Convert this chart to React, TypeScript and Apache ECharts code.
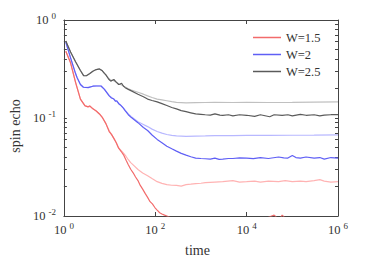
import { useEffect, useRef } from 'react';
import * as echarts from 'echarts';

// Tick exponents (axis is log10 of the value)
const xTickExponents = [0, 2, 4, 6];
const yTickExponents = [-2, -1, 0];
const yMinorMultipliers = [2, 3, 4, 5, 6, 7, 8, 9];

const legendNames = ['W=1.5', 'W=2', 'W=2.5'];

// [time, spin echo]
const w15Dark: [number, number][] = [
  [1.1, 0.48], [1.4, 0.366], [1.8, 0.231], [2.3, 0.156], [2.9, 0.133], [3.4, 0.130], [3.7, 0.133],
  [4.3, 0.124], [5.1, 0.118], [6.0, 0.110], [7.0, 0.1006], [8.3, 0.0876], [9.8, 0.0728], [11, 0.068],
  [12.4, 0.0619], [14, 0.056], [15.8, 0.0492], [18, 0.0455], [20.2, 0.0421], [23, 0.037], [25.7, 0.0334],
  [29, 0.03], [32.8, 0.0276], [37, 0.025], [41.8, 0.023], [47, 0.0205], [53, 0.0188], [60, 0.017],
  [68, 0.0155], [77, 0.014], [86.5, 0.0133], [98, 0.0122], [110, 0.0115], [125, 0.0108], [140, 0.0105],
  [160, 0.0102], [179, 0.01], [230, 0.0095], [300, 0.0092], [500, 0.009], [1000, 0.0088], [3000, 0.009],
  [1e4, 0.0091], [2e4, 0.0094], [3e4, 0.0097], [4e4, 0.0102], [4.5e4, 0.0097], [5.5e4, 0.0096],
  [6e4, 0.0102], [7e4, 0.0095], [1e5, 0.0093], [3e5, 0.009], [1e6, 0.0092],
];
const w15Light: [number, number][] = [
  [1.1, 0.48], [1.4, 0.366], [1.8, 0.231], [2.3, 0.156], [2.9, 0.134], [3.4, 0.130], [3.7, 0.131],
  [4.3, 0.125], [5.1, 0.118], [6.0, 0.110], [7.0, 0.101], [8.3, 0.088], [9.8, 0.074], [11, 0.068],
  [12.4, 0.062], [14, 0.056], [15.8, 0.0495], [18, 0.0465], [20.2, 0.0438], [23, 0.0405], [25.7, 0.0375],
  [29, 0.035], [32.8, 0.0332], [41.8, 0.0298], [53, 0.0275], [68, 0.0258], [86.5, 0.024], [110, 0.0224],
  [140, 0.0215], [179, 0.0209], [230, 0.0206], [291, 0.0205], [370, 0.0202], [472, 0.0209], [600, 0.0211],
  [766, 0.0214], [1000, 0.0216], [1244, 0.0219], [2020, 0.0222], [3000, 0.0224], [5000, 0.023],
  [7000, 0.0222], [1e4, 0.0224], [1.5e4, 0.0227], [2e4, 0.0222], [3e4, 0.0227], [5e4, 0.0224],
  [7e4, 0.023], [1e5, 0.0224], [1.5e5, 0.0227], [2e5, 0.0224], [3e5, 0.023], [4e5, 0.0235],
  [5e5, 0.0227], [7e5, 0.0222], [1e6, 0.0224],
];
const w2Dark: [number, number][] = [
  [1.1, 0.595], [1.4, 0.411], [1.8, 0.284], [1.94, 0.259], [2.3, 0.22], [2.67, 0.206], [3.4, 0.204],
  [4.3, 0.211], [5.1, 0.212], [6.5, 0.212], [7.7, 0.196], [9.8, 0.168], [11, 0.16], [12.4, 0.156],
  [13.5, 0.148], [14.4, 0.15], [15.8, 0.14], [17.2, 0.136], [20, 0.126], [21.9, 0.119], [25.7, 0.108],
  [30, 0.101], [41.8, 0.0896], [55, 0.08], [68, 0.0745], [85, 0.067], [110, 0.0605], [140, 0.056],
  [179, 0.0515], [230, 0.0485], [291, 0.0459], [370, 0.0436], [472, 0.0418], [600, 0.0402], [766, 0.039],
  [1000, 0.0386], [1244, 0.0384], [1600, 0.038], [2020, 0.039], [2500, 0.0378], [3000, 0.0381],
  [4000, 0.0386], [5000, 0.0386], [7000, 0.0392], [1e4, 0.039], [1.4e4, 0.0385], [2e4, 0.0395],
  [3e4, 0.0386], [5e4, 0.04], [6.5e4, 0.0392], [8e4, 0.039], [1e5, 0.0414], [1.2e5, 0.0395],
  [1.5e5, 0.039], [2e5, 0.04], [3e5, 0.039], [4e5, 0.0395], [5e5, 0.0381], [7e5, 0.0395], [1e6, 0.039],
];
const w2Light: [number, number][] = [
  [1.1, 0.595], [1.4, 0.411], [1.8, 0.284], [1.94, 0.259], [2.3, 0.22], [2.67, 0.207], [3.4, 0.205],
  [4.3, 0.211], [5.1, 0.213], [6.5, 0.212], [7.7, 0.197], [9.8, 0.17], [11, 0.162], [12.4, 0.156],
  [13.5, 0.15], [15.8, 0.142], [17.2, 0.137], [20, 0.127], [21.9, 0.12], [25.7, 0.11], [30, 0.103],
  [41.8, 0.0917], [55, 0.086], [68, 0.0817], [85, 0.077], [110, 0.0728], [140, 0.07], [179, 0.0679],
  [230, 0.0665], [291, 0.0656], [472, 0.065], [766, 0.0653], [1244, 0.0656], [2020, 0.066], [5000, 0.0662],
  [1e4, 0.0664], [3e4, 0.0665], [1e5, 0.0667], [3e5, 0.0668], [1e6, 0.0672],
];
const w25Dark: [number, number][] = [
  [1.1, 0.609], [1.4, 0.472], [1.8, 0.375], [2.3, 0.305], [2.7, 0.271], [3.1, 0.27], [3.7, 0.284],
  [4.3, 0.3], [5.1, 0.312], [6.0, 0.317], [6.8, 0.306], [7.7, 0.285], [8.3, 0.275], [9.5, 0.25],
  [10.6, 0.238], [12.4, 0.247], [14, 0.232], [15.8, 0.22], [17, 0.222], [18.3, 0.226], [20, 0.212],
  [22, 0.204], [25.7, 0.196], [30, 0.189], [41.8, 0.175], [55, 0.165], [68, 0.156], [85, 0.151],
  [110, 0.146], [140, 0.14], [179, 0.134], [230, 0.128], [291, 0.124], [370, 0.119], [472, 0.116],
  [600, 0.113], [766, 0.11], [1000, 0.109], [1244, 0.108], [1600, 0.107], [2020, 0.11], [2600, 0.107],
  [3000, 0.1066], [4000, 0.108], [5000, 0.105], [7000, 0.108], [1e4, 0.1066], [1.5e4, 0.104], [2e4, 0.108],
  [3.2e4, 0.103], [4e4, 0.108], [6e4, 0.1066], [8e4, 0.108], [1e5, 0.105], [1.5e5, 0.109], [2e5, 0.1066],
  [3e5, 0.108], [4e5, 0.105], [5e5, 0.107], [7e5, 0.108], [1e6, 0.108],
];
const w25Light: [number, number][] = [
  [1.1, 0.609], [1.4, 0.472], [1.8, 0.375], [2.3, 0.305], [2.7, 0.271], [3.1, 0.27], [3.7, 0.284],
  [4.3, 0.3], [5.1, 0.312], [6.0, 0.316], [6.8, 0.306], [7.7, 0.287], [8.3, 0.276], [9.5, 0.255],
  [10.6, 0.243], [12.4, 0.24], [14, 0.232], [15.8, 0.224], [18.3, 0.217], [22, 0.207], [25.7, 0.199],
  [30, 0.193], [41.8, 0.183], [55, 0.175], [68, 0.168], [85, 0.162], [110, 0.156], [140, 0.153],
  [179, 0.15], [230, 0.147], [291, 0.1445], [472, 0.143], [766, 0.1435], [1244, 0.144], [2000, 0.1445],
  [5000, 0.144], [1e4, 0.1445], [3e4, 0.144], [1e5, 0.1445], [3e5, 0.145], [1e6, 0.146],
];

const FONT = "'Liberation Serif', serif";
const AXIS_COLOR = '#444';
const TEXT_COLOR = '#333';

const toLog = (d: [number, number][]) => d.map(([t, v]) => [Math.log10(t), Math.log10(v)]);

const yTickPositions: number[] = [];
yTickExponents.forEach((e) => {
  yTickPositions.push(e);
  if (e < 0) yMinorMultipliers.forEach((k) => yTickPositions.push(e + Math.log10(k)));
});

const richLabel = {
  b: { fontFamily: FONT, fontSize: 12.5, lineHeight: 18, color: TEXT_COLOR },
  s: { fontFamily: FONT, fontSize: 9, lineHeight: 10, verticalAlign: 'top', color: TEXT_COLOR, padding: [0, 0, 0, 3] },
};
const fmt = (v: number) => `{b|10}{s|${v}}`;

export default function App() {
  const ref = useRef<HTMLDivElement>(null);
  useEffect(() => {
    if (!ref.current) return;
    const chart = echarts.init(ref.current, undefined, { renderer: 'svg' });
    const line = (name: string, data: [number, number][], color: string, z: number) => ({
      type: 'line',
      name,
      data: toLog(data),
      showSymbol: false,
      symbol: 'none',
      clip: true,
      z,
      lineStyle: { color, width: 1.2 },
      itemStyle: { color },
    });
    const xCommon = {
      type: 'value',
      min: 0,
      max: 6,
      splitLine: { show: false },
      axisLine: { show: true, onZero: false, lineStyle: { color: AXIS_COLOR, width: 1 } },
      axisTick: { show: true, inside: true, length: 4, customValues: xTickExponents, lineStyle: { color: AXIS_COLOR } },
    };
    const yCommon = {
      type: 'value',
      min: -2,
      max: 0,
      splitLine: { show: false },
      axisLine: { show: true, onZero: false, lineStyle: { color: AXIS_COLOR, width: 1 } },
      axisTick: { show: true, inside: true, length: 3, customValues: yTickPositions, lineStyle: { color: AXIS_COLOR } },
    };
    chart.setOption({
      animation: false,
      backgroundColor: '#fff',
      grid: { left: 53, right: 36, top: 20, bottom: 43, containLabel: false },
      legend: {
        data: legendNames,
        orient: 'vertical',
        left: 253,
        top: 31,
        padding: 0,
        itemWidth: 28,
        itemHeight: 1.5,
        itemGap: 4,
        icon: 'rect',
        textStyle: { fontFamily: FONT, fontSize: 12.5, color: TEXT_COLOR },
      },
      xAxis: [
        {
          ...xCommon,
          position: 'bottom',
          axisLabel: { customValues: xTickExponents, formatter: fmt, rich: richLabel, margin: 5 },
          name: 'time',
          nameLocation: 'middle',
          nameGap: 27,
          nameTextStyle: { fontFamily: FONT, fontSize: 14, color: TEXT_COLOR, padding: [0, 7, 0, 0] },
        },
        { ...xCommon, position: 'top', axisLabel: { show: false } },
      ],
      yAxis: [
        {
          ...yCommon,
          position: 'left',
          axisLabel: { customValues: yTickExponents, formatter: fmt, rich: richLabel, margin: 8 },
          name: 'spin echo',
          nameLocation: 'middle',
          nameGap: 35,
          nameRotate: 90,
          nameTextStyle: { fontFamily: FONT, fontSize: 14, color: TEXT_COLOR, padding: [0, 16, 0, 0] },
        },
        { ...yCommon, position: 'right', axisLabel: { show: false } },
      ],
      series: [
        line('W=1.5 light', w15Light, '#ffb3b3', 1),
        line('W=2 light', w2Light, '#b8b8ff', 1),
        line('W=2.5 light', w25Light, '#c0c0c0', 1),
        line('W=1.5', w15Dark, '#f26b6b', 2),
        line('W=2', w2Dark, '#5f5ff5', 2),
        line('W=2.5', w25Dark, '#5a5a5a', 2),
      ],
    });
    return () => chart.dispose();
  }, []);
  return (
    <div
      ref={ref}
      style={{ position: 'fixed', left: 0, top: 0, width: 374, height: 262, background: '#fff' }}
    />
  );
}
